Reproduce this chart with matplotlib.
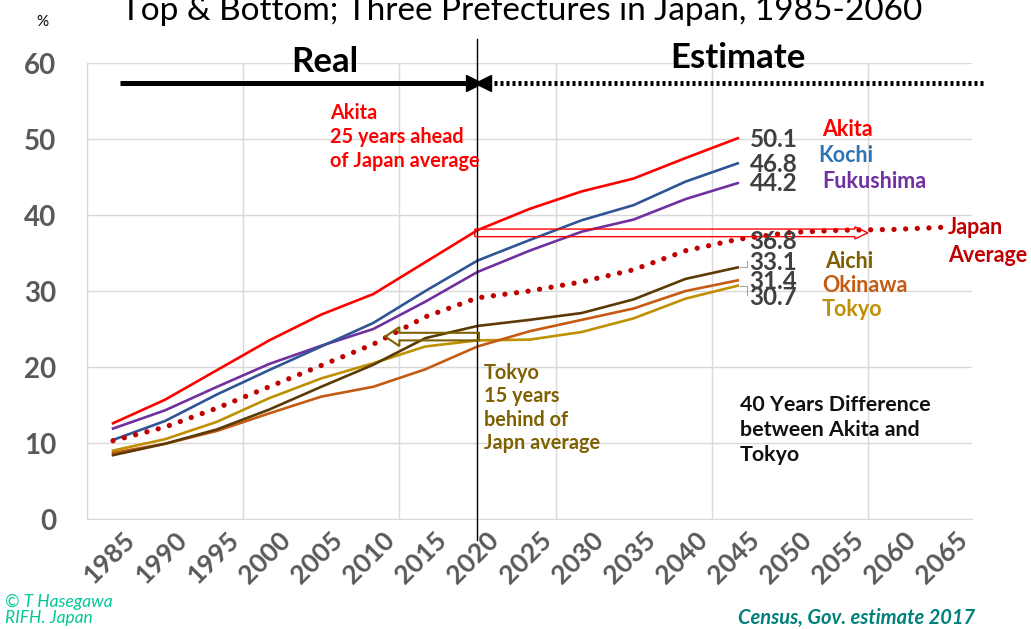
import matplotlib
matplotlib.use("Agg")
import matplotlib.pyplot as plt
from matplotlib.patches import FancyArrow
from matplotlib.transforms import ScaledTranslation

plt.rcParams['font.family'] = ['Lato', 'DejaVu Sans']

years = list(range(1985, 2070, 5))
akita     = [12.6, 15.7, 19.6, 23.5, 26.9, 29.6, 33.8, 38.0, 40.8, 43.1, 44.8, 47.5, 50.1]
kochi     = [10.4, 12.9, 16.4, 19.6, 22.7, 25.8, 30.0, 34.0, 36.7, 39.3, 41.3, 44.4, 46.8]
fukushima = [11.9, 14.3, 17.4, 20.4, 22.8, 25.0, 28.6, 32.5, 35.3, 37.8, 39.4, 42.1, 44.2]
aichi     = [8.4, 9.9, 11.8, 14.4, 17.4, 20.3, 23.8, 25.4, 26.2, 27.1, 28.9, 31.6, 33.1]
okinawa   = [8.7, 9.9, 11.6, 13.9, 16.1, 17.4, 19.7, 22.7, 24.7, 26.2, 27.7, 30.0, 31.4]
tokyo     = [9.0, 10.5, 12.8, 15.9, 18.5, 20.5, 22.7, 23.5, 23.6, 24.6, 26.4, 29.0, 30.7]
japan     = [10.3, 12.1, 14.6, 17.4, 20.2, 23.0, 26.6, 29.1, 30.0, 31.2, 32.8, 35.3, 36.8,
             37.7, 38.0, 38.1, 38.4]

W, H = 1031, 629
fig = plt.figure(figsize=(W / 100, H / 100), dpi=100)
ax = fig.add_axes([87 / W, 1 - 519 / H, (972 - 87) / W, (519 - 63) / H])

def px(x, y):
    return x / W, 1 - y / H

x_all = list(range(len(years)))
n = len(akita)

ax.plot(x_all[:n], tokyo, color='#BF9000', lw=1.9, zorder=3)
ax.plot(x_all[:n], okinawa, color='#C55A11', lw=1.9, zorder=3)
ax.plot(x_all[:n], aichi, color='#5C3A06', lw=1.9, zorder=3)
ax.plot(x_all[:n], fukushima, color='#7030A0', lw=1.9, zorder=3)
ax.plot(x_all[:n], kochi, color='#2F5597', lw=1.9, zorder=3)
ax.plot(x_all[:n], akita, color='#FF0000', lw=1.9, zorder=3)
ax.plot(x_all, japan, color='#C00000', lw=3.8, linestyle=(0, (0.01, 2.2)),
        dash_capstyle='round', zorder=4, clip_on=False)

ax.set_xlim(-0.5, len(years) - 0.5)
ax.set_ylim(0, 60)
ax.set_yticks(range(0, 61, 10))
ax.set_xticks(x_all)
ax.set_xticklabels([])
lab_tr = ax.get_xaxis_transform() + ScaledTranslation(-4 / 100, -39 / 100, fig.dpi_scale_trans)
for i, yr in zip(x_all, years):
    ax.text(i, 0, str(yr), transform=lab_tr, rotation=45, rotation_mode='anchor',
            ha='center', va='center', fontsize=19, fontweight='bold', color='#595959',
            clip_on=False)
ax.tick_params(axis='x', length=0, pad=0)
ax.tick_params(axis='y', length=0, pad=22, labelsize=20, labelcolor='#595959')
for lab in ax.get_yticklabels():
    lab.set_fontweight('bold')

ax.set_xticks([-0.5, 2.5, 5.5, 8.5, 11.5, 14.5], minor=True)
ax.grid(axis='y', color='#D9D9D9', lw=1)
ax.grid(axis='x', which='minor', color='#D9D9D9', lw=1)
ax.tick_params(axis='x', which='minor', length=0)
for s in ['top', 'right']:
    ax.spines[s].set_visible(False)
ax.spines['left'].set_color('#D9D9D9')
ax.spines['bottom'].set_color('#D9D9D9')

# real / estimate divider
ax.axvline(7, ymin=-21 / 456, ymax=480 / 456, color='black', lw=1, clip_on=False, zorder=5)
ax.plot([0.13, 6.9], [57.4, 57.4], color='black', lw=3.6, solid_capstyle='butt', clip_on=False)
ax.plot([6.93], [57.4], marker='>', color='black', ms=11, clip_on=False)
ax.plot([7.2, 16.75], [57.4, 57.4], color='black', lw=3.6, linestyle=(0, (0.6, 0.6)),
        clip_on=False)
ax.plot([7.1], [57.4], marker='<', color='black', ms=11, clip_on=False)
fig.text(*px(325, 62), 'Real', fontsize=25, fontweight='bold', ha='center', va='center')
fig.text(*px(738, 58), 'Estimate', fontsize=25, fontweight='bold', ha='center', va='center')

# hollow arrows
ax.add_patch(FancyArrow(6.95, 37.65, 7.55, 0, width=1.0, head_width=1.6, head_length=0.25,
                        length_includes_head=True, fill=False, edgecolor='#FF0000', lw=1,
                        zorder=5))
ax.add_patch(FancyArrow(7.03, 24.0, -1.8, 0, width=1.0, head_width=2.5, head_length=0.27,
                        length_includes_head=True, fill=False, edgecolor='#7F6000', lw=1.5,
                        zorder=5))

# data labels at the 2045 end
lab_y = [(akita, 49.9), (kochi, 46.6), (fukushima, 44.2), ([japan[12]], 36.5),
         (aichi, 33.7), (okinawa, 31.2), (tokyo, 29.2)]
for series, yy in lab_y:
    ax.text(12.23, yy, f"{series[-1]:.1f}", fontsize=17.5, fontweight='bold', color='#404040',
            ha='left', va='center', clip_on=False, zorder=6)
ax.plot([12.05, 12.18, 12.18], [33.1, 33.1, 33.9], color='#A6A6A6', lw=0.8, clip_on=False)
ax.plot([12.05, 12.18, 12.18], [30.7, 30.7, 29.5], color='#A6A6A6', lw=0.8, clip_on=False)

names = [('Akita', 822, 130, '#FF0000'), ('Kochi', 818, 156, '#2E75B6'),
         ('Fukushima', 822, 182, '#7030A0'), ('Aichi', 825, 261, '#7F6000'),
         ('Okinawa', 822, 285, '#C55A11'), ('Tokyo', 822, 310, '#BF9000')]
for t, x, y, c in names:
    fig.text(*px(x, y), t, fontsize=15.5, fontweight='bold', color=c, ha='left', va='center')
fig.text(*px(948, 227), 'Japan', fontsize=15.5, fontweight='bold', color='#C00000',
         ha='left', va='center')
fig.text(*px(948, 256), 'Average', fontsize=15.5, fontweight='bold', color='#C00000',
         ha='left', va='center')

fig.text(*px(330, 137), 'Akita\n25 years ahead\nof Japan average', fontsize=14.3,
         fontweight='bold', color='#FF0000', ha='left', va='center', linespacing=1.22)
fig.text(*px(484, 408), 'Tokyo\n15 years\nbehind of\nJapn average', fontsize=14.3,
         fontweight='bold', color='#7F6000', ha='left', va='center', linespacing=1.22)
fig.text(*px(740, 430), '40 Years Difference\nbetween Akita and\nTokyo', fontsize=15.4,
         fontweight='bold', color='#111111', ha='left', va='center', linespacing=1.33)

fig.text(*px(522, 20), 'Top & Bottom; Three Prefectures in Japan, 1985-2060', fontsize=24,
         ha='center', va='baseline')
fig.text(*px(42, 22), '%', fontsize=11, ha='center', va='center')

fig.text(*px(5, 610), '\u00a9 T Hasegawa\nRIFH. Japan', fontsize=12.5, style='italic',
         color='#00C896', ha='left', va='center', linespacing=0.95,
         family=['Liberation Sans Narrow', 'Lato', 'DejaVu Sans'])
fig.text(*px(975, 618), 'Census, Gov. estimate 2017', fontsize=14.5, style='italic',
         fontweight='bold', color='#00807A', ha='right', va='center')

fig.savefig('out.png', dpi=100)
